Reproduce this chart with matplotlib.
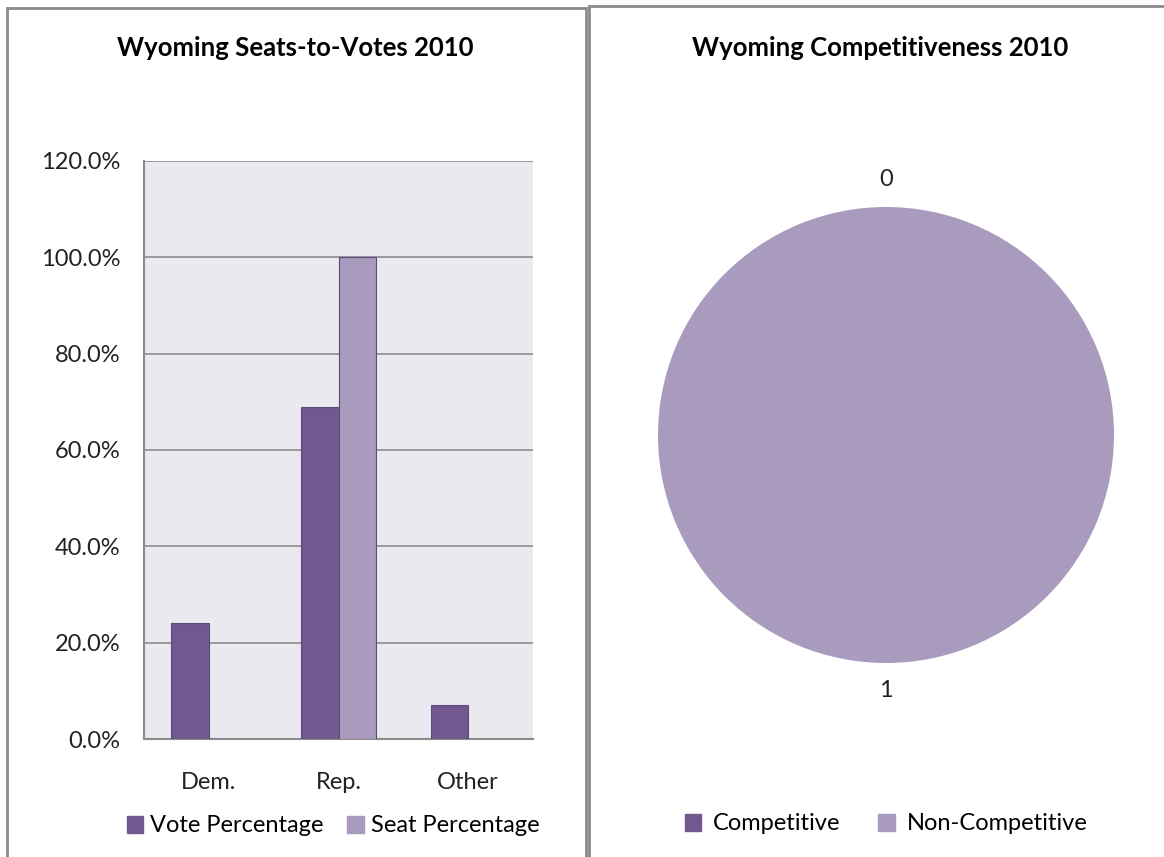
import matplotlib.pyplot as plt
from matplotlib.patches import Rectangle, Patch
import numpy as np

W, H = 1164, 857

categories = ["Dem.", "Rep.", "Other"]
vote_pct = [24.0, 69.0, 7.0]
seat_pct = [0.0, 100.0, 0.0]
yticks = [0, 20, 40, 60, 80, 100, 120]

pie_labels = ["Competitive", "Non-Competitive"]
pie_values = [0, 1]

dark = "#71588F"
light = "#A99BBD"
edge = "#5E4A7A"

plt.rcParams['font.family'] = ['Lato', 'DejaVu Sans']

fig = plt.figure(figsize=(W / 100, H / 100), dpi=100)


def px_axes(x0, y0, x1, y1):
    # axes from pixel box (top-left origin)
    return fig.add_axes([x0 / W, 1 - y1 / H, (x1 - x0) / W, (y1 - y0) / H])


# panel borders
fig.patches.append(Rectangle((7 / W, -0.05), 579 / W, 1 - 8 / H + 0.05,
                             transform=fig.transFigure, fill=False,
                             edgecolor="#8a8a8a", lw=2))
fig.patches.append(Rectangle((589 / W, -0.05), 600 / W, 1 - 6 / H + 0.05,
                             transform=fig.transFigure, fill=False,
                             edgecolor="#8a8a8a", lw=2))

# ---- bar chart ----
ax = px_axes(144, 161, 533, 739)
ax.set_facecolor("#EBE9F0")
x = np.arange(len(categories))
w = 0.29
ax.bar(x - w / 2, vote_pct, w, color=dark, edgecolor=edge, lw=0.8,
       label="Vote Percentage", zorder=3)
ax.bar(x + w / 2, seat_pct, w, color=light, edgecolor=edge, lw=0.8,
       label="Seat Percentage", zorder=3)
ax.set_xlim(-0.5, 2.5)
ax.set_ylim(0, 120)
ax.set_yticks(yticks)
ax.set_yticklabels([f"{v:.1f}%" for v in yticks], fontsize=17, color="#222222")
ax.set_xticks(x)
ax.set_xticklabels(categories, fontsize=17, color="#222222")
ax.tick_params(axis='both', length=0)
ax.tick_params(axis='y', pad=17)
ax.tick_params(axis='x', pad=24)
ax.grid(axis='y', color="#8c8c8c", lw=1.2, zorder=1)
for s in ["top", "right"]:
    ax.spines[s].set_visible(False)
for s in ["left", "bottom"]:
    ax.spines[s].set_color("#8c8c8c")
    ax.spines[s].set_linewidth(1.5)
fig.text(295 / W, 1 - 48 / H, "Wyoming Seats-to-Votes 2010", ha="center",
         va="center", fontsize=18.5, fontweight="bold")
fig.legend(handles=[Patch(color=dark, label="Vote Percentage"),
                    Patch(color=light, label="Seat Percentage")],
           loc="center", bbox_to_anchor=(333 / W, 1 - 826 / H), ncol=2,
           frameon=False, fontsize=17, handlelength=0.7, handleheight=0.7,
           handletextpad=0.3, columnspacing=1.0)

# ---- pie chart ----
cx, cy, r = 886, 435, 228
half = 300
pax = px_axes(cx - half, cy - half, cx + half, cy + half)
wedges, texts = pax.pie(pie_values, colors=[dark, light], startangle=90,
                        counterclock=False,
                        labels=[str(v) for v in pie_values], labeldistance=1.12,
                        textprops=dict(fontsize=17, color="#222222"))
for t in texts:
    t.set_ha("center")
lim = half / r
pax.set_xlim(-lim, lim)
pax.set_ylim(-lim, lim)
pax.set_aspect("equal")
pax.axis("off")
fig.text(880 / W, 1 - 48 / H, "Wyoming Competitiveness 2010", ha="center",
         va="center", fontsize=18.5, fontweight="bold")
fig.legend(handles=[Patch(color=dark, label="Competitive"),
                    Patch(color=light, label="Non-Competitive")],
           loc="center", bbox_to_anchor=(886 / W, 1 - 824 / H), ncol=2,
           frameon=False, fontsize=17, handlelength=0.7, handleheight=0.7,
           handletextpad=0.5, columnspacing=1.6)

fig.savefig("out.png", dpi=100)
